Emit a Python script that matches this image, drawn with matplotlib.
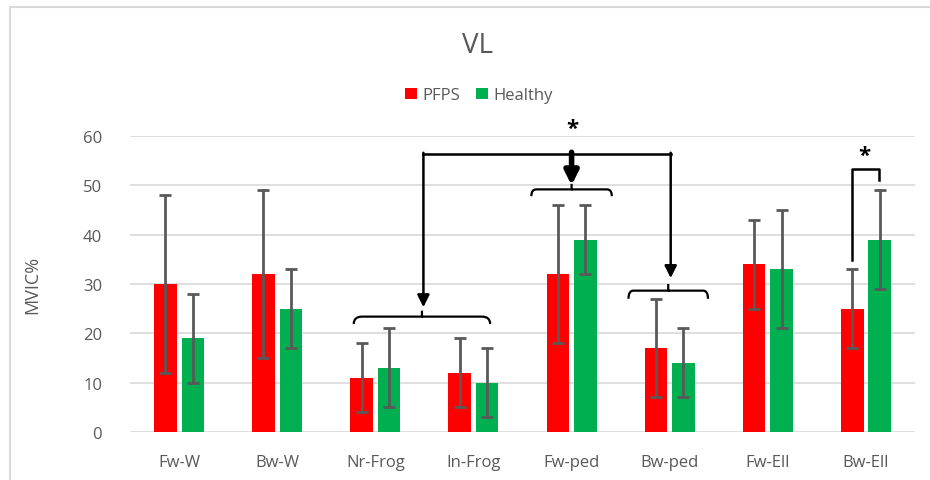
import matplotlib.pyplot as plt
import numpy as np
from matplotlib.path import Path
from matplotlib.patches import PathPatch, Rectangle

categories = ["Fw-W", "Bw-W", "Nr-Frog", "In-Frog", "Fw-ped", "Bw-ped", "Fw-Ell", "Bw-Ell"]
pfps = [30, 32, 11, 12, 32, 17, 34, 25]
pfps_err = [18, 17, 7, 7, 14, 10, 9, 8]
healthy = [19, 25, 13, 10, 39, 14, 33, 39]
healthy_err = [9, 8, 8, 7, 7, 7, 12, 10]

plt.rcParams['font.family'] = ['Open Sans', 'DejaVu Sans']
txt = '#595959'

fig = plt.figure(figsize=(9.3, 4.81), dpi=100)
ax = fig.add_axes([0.1398, 0.0998, 0.8441, 0.6154])

x = np.arange(len(categories))
w = 0.23
ekw = dict(ecolor='#595959', elinewidth=2, capsize=4.5, capthick=2)
ax.bar(x - 0.14, pfps, w, color='#FF0000', yerr=pfps_err, error_kw=ekw, label='PFPS', zorder=3)
ax.bar(x + 0.14, healthy, w, color='#00B050', yerr=healthy_err, error_kw=ekw, label='Healthy', zorder=3)

ax.set_xlim(-0.5, len(categories) - 0.5)
ax.set_ylim(0, 60)
ax.set_yticks(range(0, 61, 10))
ax.set_xticks(x)
ax.set_xticklabels(categories)
ax.tick_params(axis='both', length=0, labelsize=12, colors=txt)
ax.tick_params(axis='y', pad=20)
ax.tick_params(axis='x', pad=16)
ax.grid(axis='y', color='#D9D9D9', linewidth=1.2, zorder=0)
for s in ax.spines.values():
    s.set_visible(False)
ax.set_ylabel('MVIC%', fontsize=13, color=txt, labelpad=30)


def brace(x0, x1, y0, y1):
    # curly brace opening downward, ends at y0, nub at y1
    xm = (x0 + x1) / 2
    ym = y0 + (y1 - y0) * 0.55
    dx = (x1 - x0) * 0.06
    verts = [(x0, y0), (x0, ym), (x0 + dx, ym), (x0 + 2 * dx, ym),
             (xm - 2 * dx, ym), (xm - dx, ym), (xm, ym), (xm, y1),
             (xm, ym), (xm + dx, ym), (xm + 2 * dx, ym),
             (x1 - 2 * dx, ym), (x1 - dx, ym), (x1, ym), (x1, y0)]
    codes = [Path.MOVETO, Path.CURVE3, Path.CURVE3, Path.LINETO,
             Path.LINETO, Path.CURVE3, Path.CURVE3, Path.LINETO,
             Path.MOVETO, Path.CURVE3, Path.CURVE3, Path.LINETO,
             Path.LINETO, Path.CURVE3, Path.CURVE3]
    ax.add_patch(PathPatch(Path(verts, codes), fill=False, lw=1.6,
                           color='black', clip_on=False, zorder=5))


brace(1.78, 3.17, 21.9, 24.6)
brace(3.59, 4.41, 47.8, 50.3)
brace(4.58, 5.39, 27.0, 30.0)

ytop = 56.4
ax.plot([2.49, 5.01], [ytop, ytop], color='black', lw=1.8, clip_on=False, zorder=5)
arr = dict(arrowstyle='-|>', color='black', lw=1.8, mutation_scale=18, shrinkA=0, shrinkB=0)
ax.annotate('', xy=(2.49, 25.3), xytext=(2.49, ytop + 0.2), arrowprops=arr, annotation_clip=False)
ax.annotate('', xy=(5.01, 31.2), xytext=(5.01, ytop + 0.2), arrowprops=arr, annotation_clip=False)
arr2 = dict(arrowstyle='-|>', color='black', lw=4, mutation_scale=20, shrinkA=0, shrinkB=0)
ax.annotate('', xy=(4.0, 50.0), xytext=(4.0, ytop + 0.3), arrowprops=arr2, annotation_clip=False)
ax.text(4.01, 59.3, '*', ha='center', va='bottom', fontsize=16, fontweight='bold', color='black')

ax.plot([6.86, 6.86, 7.13, 7.13], [34.9, 53.3, 53.3, 51.0], color='black', lw=1.8, clip_on=False, zorder=5)
ax.text(6.98, 54.0, '*', ha='center', va='bottom', fontsize=16, fontweight='bold', color='black')

fig.text(0.513, 0.905, 'VL', ha='center', va='center', fontsize=20, color=txt)
fig.legend(loc='center', bbox_to_anchor=(0.515, 0.8), ncol=2, frameon=False,
           fontsize=12, handlelength=0.7, handleheight=0.7, handletextpad=0.3,
           columnspacing=1.0, labelcolor=txt)

fig.patches.append(Rectangle((0.0108, -0.05), 1.1, 1.033, transform=fig.transFigure,
                             fill=False, edgecolor='#D9D9D9', lw=1.5))

fig.savefig('out.png')
